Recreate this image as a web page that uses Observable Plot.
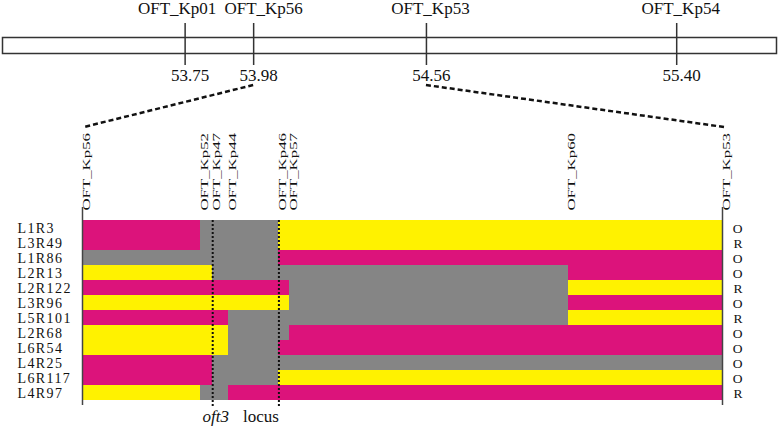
<!DOCTYPE html>
<html><head><meta charset="utf-8">
<script src="https://cdn.jsdelivr.net/npm/d3@7"></script>
<script src="https://cdn.jsdelivr.net/npm/@observablehq/plot@0.6"></script>
<style>
html,body{margin:0;padding:0;background:#fff;}
#chart{width:778px;height:427px;overflow:hidden;}
#chart svg{display:block;}
</style></head><body><div id="chart"></div>
<script>
// ---- data ----
const topMarkers = ["OFT_Kp01", "OFT_Kp56", "OFT_Kp53", "OFT_Kp54"];
const topPositions = [53.75, 53.98, 54.56, 55.40];          // Mb
const chromosomeSpan = [53.137, 55.735];                     // drawn chromosome segment (Mb)

const panelMarkers = ["OFT_Kp56", "OFT_Kp52", "OFT_Kp47", "OFT_Kp44", "OFT_Kp46", "OFT_Kp57", "OFT_Kp60", "OFT_Kp53"];
const panelPositions = [53.98, 54.087, 54.098, 54.112, 54.158, 54.168, 54.420, 54.56]; // Mb (estimated)

const lines = ["L1R3", "L3R49", "L1R86", "L2R13", "L2R122", "L3R96", "L5R101", "L2R68", "L6R54", "L4R25", "L6R117", "L4R97"];
// genotype per marker interval (7 intervals between the 8 panel markers)
const genotypes = ["AHHHBBB", "AHHHBBB", "HHHHAAA", "BBHHHHA", "AAAAAHB", "BBBBBHA", "AAAHHHB", "BBBHHAA", "BBBHAAA", "AAHHHHH", "AAHHBBB", "BHHAAAA"];
const phenotypes = ["O", "R", "O", "O", "R", "O", "R", "O", "O", "O", "O", "R"];

const locusMarkers = ["OFT_Kp47", "OFT_Kp46"];
const zoomEnds = ["OFT_Kp56", "OFT_Kp53"];
const genotypeCodes = ["A", "B", "H"];

// ---- derived tables ----
const font = '"Liberation Serif", "Times New Roman", Times, serif';
const posOf = name => panelPositions[panelMarkers.indexOf(name)];
const topData = topMarkers.map((name, i) => ({name, pos: topPositions[i]}));
const panelData = panelMarkers.map((name, i) => ({name, pos: panelPositions[i]}));
const segments = [];
lines.forEach((line, r) => {
  const g = genotypes[r];
  let s = 0;
  for (let i = 1; i <= g.length; i++) {
    if (i === g.length || g[i] !== g[s]) {
      segments.push({line, x1: panelPositions[s], x2: panelPositions[i], code: g[s]});
      s = i;
    }
  }
});
const rows = lines.map((line, i) => ({line, phenotype: phenotypes[i]}));

// ---- top chromosome bar ----
const topPlot = Plot.plot({
  width: 778, height: 82,
  marginLeft: 2, marginRight: 2, marginTop: 37, marginBottom: 29,
  x: {domain: chromosomeSpan, axis: null},
  style: {fontFamily: font, fontSize: "17px", color: "#111", background: "white", overflow: "visible"},
  marks: [
    Plot.frame({stroke: "#333", strokeWidth: 1.5}),
    Plot.ruleX(topData, {x: "pos", stroke: "#333", strokeWidth: 1.5, insetTop: -14, insetBottom: -12}),
    Plot.text(topData.filter(d => d.name === "OFT_Kp01"), {x: "pos", text: "name", frameAnchor: "top", lineAnchor: "bottom", dy: -23.5, dx: -8, fontSize: 17}),
    Plot.text(topData.filter(d => d.name === "OFT_Kp56"), {x: "pos", text: "name", frameAnchor: "top", lineAnchor: "bottom", dy: -23.5, dx: 10, fontSize: 17}),
    Plot.text(topData.filter(d => d.name !== "OFT_Kp01" && d.name !== "OFT_Kp56"), {x: "pos", text: "name", frameAnchor: "top", lineAnchor: "bottom", dy: -23.5, dx: 4, fontSize: 17}),
    Plot.text(topData, {x: "pos", text: d => d.pos.toFixed(2), frameAnchor: "bottom", lineAnchor: "bottom", dy: 27, dx: 5, fontSize: 17})
  ]
});

const topX = topPlot.scale("x");
const topApply = typeof topX.apply === "function" ? v => topX.apply(v) : d3.scaleLinear(topX.domain, topX.range);

// ---- connectors (dashed zoom lines) ----
const connectors = (index, scales, values, dimensions) => {
  const g = d3.create("svg:g")
    .attr("fill", "none").attr("stroke", "#111")
    .attr("stroke-width", 2.5).attr("stroke-dasharray", "5,3");
  for (const name of zoomEnds) {
    const v = posOf(name);
    const tv = topPositions[topMarkers.indexOf(name)];
    g.append("line")
      .attr("x1", topApply(tv)).attr("y1", dimensions.marginTop - 135)
      .attr("x2", scales.x(v) + 2).attr("y2", dimensions.marginTop - 93);
  }
  return g.node();
};

// ---- graphical genotype panel ----
const panel = Plot.plot({
  width: 778, height: 345,
  marginLeft: 82, marginRight: 56, marginTop: 138, marginBottom: 27,
  x: {domain: [panelPositions[0], panelPositions[panelPositions.length - 1]], axis: null},
  y: {domain: lines, type: "band", padding: 0, axis: null},
  color: {domain: genotypeCodes, range: ["#DC137B", "#FFF200", "#858585"]},
  style: {fontFamily: font, fontSize: "17px", color: "#111", background: "white", overflow: "visible"},
  marks: [
    Plot.barX(segments, {x1: "x1", x2: "x2", y: "line", fill: "code", shapeRendering: "crispEdges"}),
    Plot.ruleX(zoomEnds.map(posOf), {stroke: "#444", strokeWidth: 1.5, insetTop: -13, insetBottom: -5}),
    Plot.ruleX(locusMarkers.map(posOf), {stroke: "#111", strokeWidth: 2, strokeDasharray: "2,2", insetBottom: -7}),
    Plot.text(panelData, {x: "pos", text: "name", frameAnchor: "top", rotate: -90, textAnchor: "start", dy: -10, fontSize: 10.5}),
    Plot.text(rows, {y: "line", text: "line", frameAnchor: "left", textAnchor: "start", dx: -65, dy: 1, fontSize: 14}),
    Plot.text(rows, {y: "line", text: "phenotype", frameAnchor: "right", dx: 20, dy: 0.5, fontSize: 13.5}),
    Plot.text(["oft3"], {x: posOf(locusMarkers[0]), text: d => d, frameAnchor: "bottom", lineAnchor: "bottom", dy: 21.5, dx: 3, fontStyle: "italic", fontSize: 17}),
    Plot.text(["locus"], {x: posOf(locusMarkers[1]), text: d => d, frameAnchor: "bottom", lineAnchor: "bottom", dy: 21.5, textAnchor: "end", fontSize: 17}),
    connectors
  ]
});

document.getElementById("chart").append(topPlot, panel);

// line labels are widened with letter spacing
d3.select(panel).selectAll("text")
  .filter(function () { return lines.includes(this.textContent); })
  .attr("letter-spacing", "1.4px");

// the rotated marker labels are drawn narrow and long, as in the figure:
// stretch each one vertically about its starting (bottom) end
d3.select(panel).selectAll("text")
  .filter(function () { return panelMarkers.includes(this.textContent); })
  .each(function () {
    const parent = this.parentNode;
    const r = this.getBoundingClientRect();
    const pt = panel.createSVGPoint();
    pt.x = r.left; pt.y = r.bottom;
    const p = pt.matrixTransform(parent.getScreenCTM().inverse());
    const g = document.createElementNS("http://www.w3.org/2000/svg", "g");
    g.setAttribute("transform", `translate(0,${p.y}) scale(1,1.6) translate(0,${-p.y})`);
    parent.insertBefore(g, this);
    g.appendChild(this);
  });
</script>
</body></html>
